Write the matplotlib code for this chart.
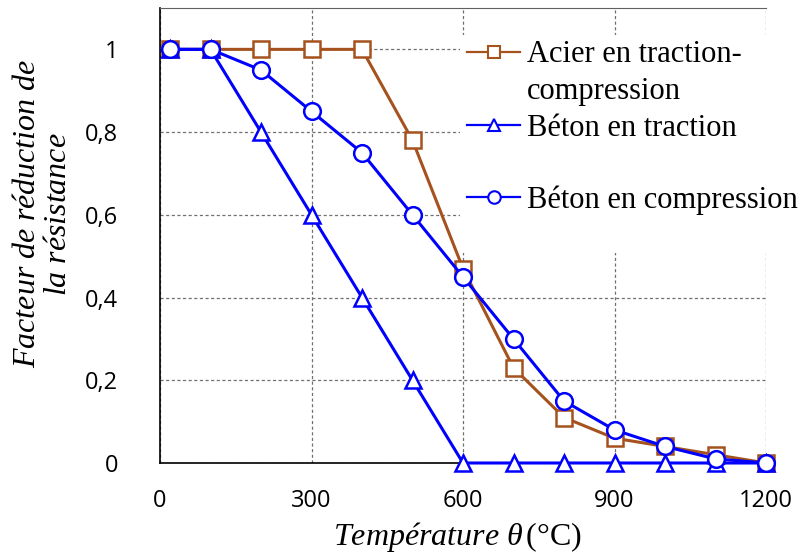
import numpy as np
import matplotlib
matplotlib.use('Agg')
import matplotlib.pyplot as plt
from matplotlib.lines import Line2D
from matplotlib.patches import Rectangle
from matplotlib.ticker import FuncFormatter

matplotlib.rcParams.update({'mathtext.fontset': 'custom',
                            'mathtext.rm': 'Liberation Serif',
                            'mathtext.it': 'Liberation Serif:italic',
                            'mathtext.bf': 'Liberation Serif:bold'})

temp = [20, 100, 200, 300, 400, 500, 600, 700, 800, 900, 1000, 1100, 1200]
acier = [1, 1, 1, 1, 1, 0.78, 0.47, 0.23, 0.11, 0.06, 0.04, 0.02, 0]
beton_traction = [1, 1, 0.8, 0.6, 0.4, 0.2, 0, 0, 0, 0, 0, 0, 0]
beton_compression = [1, 1, 0.95, 0.85, 0.75, 0.6, 0.45, 0.3, 0.15, 0.08, 0.04, 0.01, 0]

xticks = [0, 300, 600, 900, 1200]
yticks = [0, 0.2, 0.4, 0.6, 0.8, 1]

brown = '#A5521E'
blue = '#0000FF'
W, H = 798, 556

fig = plt.figure(figsize=(W / 100, H / 100), dpi=100)
ax = fig.add_axes([160 / W, 1 - 463 / H, 606 / W, 455 / H])

ax.plot(temp, acier, color=brown, marker='s', ms=11, mfc='white', mec=brown, mew=1.8, lw=2.2,
        zorder=3, clip_on=False)
ax.plot(temp, beton_traction, color=blue, marker='^', ms=11, mfc='white', mec=blue, mew=1.8, lw=2.2,
        zorder=4, clip_on=False)
ax.plot(temp, beton_compression, color=blue, marker='o', ms=12, mfc='white', mec=blue, mew=1.8, lw=2.2,
        zorder=5, clip_on=False)

ax.set_xlim(0, 1200)
ax.set_ylim(0, 1.1)
ax.set_xticks(xticks)
ax.set_yticks(yticks)
ax.yaxis.set_major_formatter(FuncFormatter(lambda v, p: ('%g' % v).replace('.', ',')))
ax.tick_params(length=0, labelsize=17)
ax.tick_params(axis='y', pad=30)
ax.tick_params(axis='x', pad=19)
for lab in ax.get_xticklabels() + ax.get_yticklabels():
    lab.set_fontfamily('Open Sans')
ax.grid(True, color='#707070', lw=0.9, linestyle=(0, (2.5, 2)))
ax.set_axisbelow(True)
ax.spines['right'].set_visible(False)
ax.spines['top'].set_color('#606060')
ax.spines['left'].set_linewidth(1.2)
ax.spines['bottom'].set_linewidth(1.2)

# white box behind the legend
fig.patches.append(Rectangle((460 / W, 1 - 253 / H), (W - 460) / W, (253 - 35) / H,
                             transform=fig.transFigure, facecolor='white', edgecolor='none', zorder=3))

entries = [
    (Line2D([], [], color=brown, marker='s', ms=9, mfc='white', mec=brown, mew=1.5, lw=1.6), 'Acier en traction-', 55),
    (Line2D([], [], color=blue, marker='^', ms=9, mfc='white', mec=blue, mew=1.5, lw=1.6), 'Béton en traction', 128),
    (Line2D([], [], color=blue, marker='o', ms=9, mfc='white', mec=blue, mew=1.5, lw=1.6), 'Béton en compression', 200),
]
for h, lab, yy in entries:
    leg = fig.legend([h], [lab], loc='center left', bbox_to_anchor=(467 / W, 1 - yy / H),
                     frameon=False, borderpad=0, borderaxespad=0, handlelength=1.75,
                     handletextpad=0.2, prop={'family': 'Liberation Serif', 'size': 22})
    leg.set_zorder(5)
fig.text(527 / W, 1 - 92 / H, 'compression', ha='left', va='center',
         family='Liberation Serif', fontsize=22, zorder=5)

fig.text(42 / W, 1 - 214 / H,
         r'$\mathit{Facteur\ de\ réduction\ de}$' + '\n' + r'$\mathit{la\ résistance}$',
         rotation=90, ha='center', va='center', multialignment='center',
         fontsize=23, linespacing=1.0)
fig.text(457 / W, 1 - 537 / H, r'$\mathit{Température}\ \theta\,(°\mathrm{C})$',
         ha='center', va='center', fontsize=23)

fig.savefig('out.png', dpi=100)
